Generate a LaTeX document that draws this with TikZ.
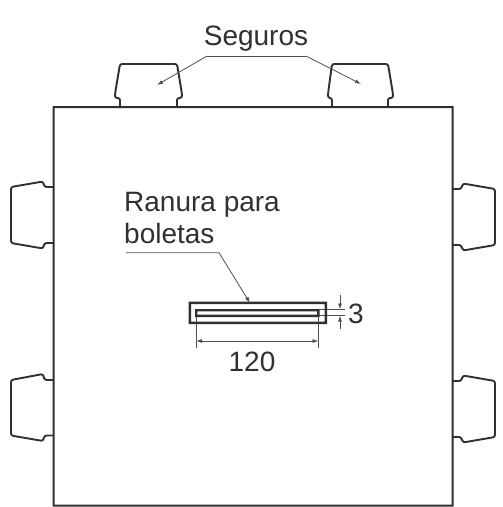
\documentclass[tikz,border=0pt]{standalone}
\usepackage{fontspec}
\setmainfont{Liberation Sans}
\usetikzlibrary{arrows.meta}
\definecolor{ink}{HTML}{303030}
\tikzset{
  thick line/.style={draw=ink,line width=1.9pt,line join=round},
  ring/.style={fill=ink,even odd rule},
  latch/.style={thick line,rounded corners=2.2pt},
  thin line/.style={draw=ink!85,line width=0.8pt},
  leader/.style={thin line,-{Latex[length=6pt,width=4pt]}},
  dimen/.style={thin line,{Latex[length=6pt,width=4pt]}-{Latex[length=6pt,width=4pt]}},
  tick/.style={thin line,-{Latex[length=6pt,width=4pt]}},
  label/.style={text=ink,font=\fontsize{28}{30}\selectfont,inner sep=0pt,anchor=base},
  labelw/.style={label,anchor=base west}
}
\begin{document}
\begin{tikzpicture}[x=1pt,y=-1pt]
\useasboundingbox (0,0) rectangle (503,507);
% dimension 120 (under the slot outline)
\coordinate (e1a) at (196,317);
\coordinate (e1b) at (196,348);
\coordinate (e2a) at (318.5,317);
\coordinate (e2b) at (318.5,348);
\draw[thin line] (e1a) -- (e1b);
\draw[thin line] (e2a) -- (e2b);
\draw[dimen] (196,341) -- (318.5,341);
% dimension 3
\coordinate (h1a) at (319,309.5);
\coordinate (h1b) at (345,309.5);
\coordinate (h2a) at (319,315.5);
\coordinate (h2b) at (345,315.5);
\draw[thin line] (h1a) -- (h1b);
\draw[thin line] (h2a) -- (h2b);
\draw[tick] (340,295) -- (340,309.5);
\draw[tick] (340,329) -- (340,315.5);
% body
\path[ring] (52.5,106) rectangle (453.5,506.5) (54.5,108) rectangle (451.5,504.5);
% top latches
\draw[latch] (120,107) -- (120,98) -- (115,98) -- (115,94) -- (120,64) -- (177,64) -- (182,94) -- (182,98) -- (177,98) -- (177,107);
\draw[latch] (332,107) -- (332,98) -- (328,98) -- (328,94) -- (332,64) -- (388,64) -- (393,94) -- (393,98) -- (388,98) -- (388,107);
% left latches
\draw[latch] (53.5,187) -- (44.5,187) -- (43,181.5) -- (11,187) -- (11,243) -- (43,248.5) -- (44.5,243) -- (53.5,243);
\draw[latch] (53.5,380) -- (44.5,380) -- (43,374) -- (11,380) -- (11,435.5) -- (43,441) -- (44.5,435.5) -- (53.5,435.5);
% right latches
\draw[latch] (452.5,189) -- (461,189) -- (463,183.5) -- (495,189) -- (495,245) -- (463,250.5) -- (461,245) -- (452.5,245);
\draw[latch] (452.5,381) -- (461,381) -- (463,375.5) -- (495,381) -- (495,437) -- (463,442.5) -- (461,437) -- (452.5,437);
% slot
\path[ring] (188.5,301.5) rectangle (327,324) (191,304) rectangle (324.5,321.5);
\path[ring] (195,309) rectangle (319.5,317) (197.4,311.4) rectangle (317.1,314.6);
% labels
\node[label] (seguros) at (256,45.7) {Seguros};
\node[labelw] (ranura) at (124,211.7) {Ranura para};
\node[labelw] (boletas) at (124,243.3) {boletas};
\node[label] (dimA) at (252,371) {120};
\node[label] (dimB) at (356,323) {3};
% leaders
\coordinate (sl) at (207,56);
\coordinate (sr) at (306,56);
\coordinate (tipL) at (157,85);
\coordinate (tipR) at (361,84);
\draw[thin line] (sl) -- (sr);
\draw[leader] (sl) -- (tipL);
\draw[leader] (sr) -- (tipR);
\coordinate (rl) at (126,252.7);
\coordinate (rm) at (219,252.7);
\coordinate (rt) at (250,303);
\draw[leader] (rl) -- (rm) -- (rt);
\end{tikzpicture}
\end{document}
